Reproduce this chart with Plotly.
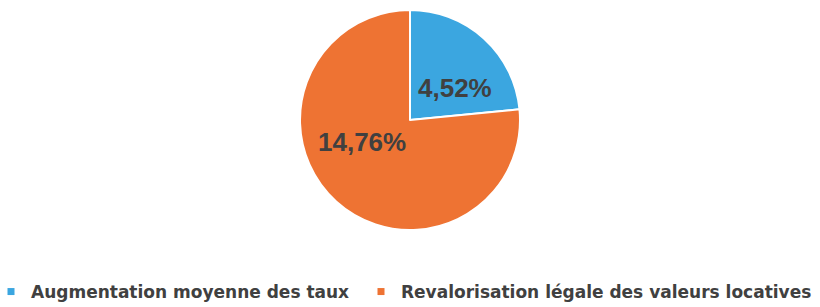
import plotly.graph_objects as go

# Data
categories = ["Augmentation moyenne des taux", "Revalorisation légale des valeurs locatives"]
values = [4.52, 14.76]
colors = ["#3BA6E0", "#EE7333"]

def fmt(v):
    return f"{v:.2f}".replace(".", ",") + "%"

W, H = 820, 307

fig = go.Figure()
fig.add_trace(go.Pie(
    labels=categories,
    values=values,
    sort=False,
    direction="clockwise",
    rotation=0,
    marker=dict(colors=colors, line=dict(color="white", width=2)),
    textinfo="none",
    hoverinfo="label+value",
    showlegend=False,
    domain=dict(x=[0, 1], y=[1 - 230 / H, 1 - 10 / H]),
))

# legend entries with small square markers (one legend per entry)
legend_ids = ["legend", "legend2"]
for c, col, lg in zip(categories, colors, legend_ids):
    fig.add_trace(go.Scatter(
        x=[None], y=[None], mode="markers", name=c,
        marker=dict(symbol="square", size=7, color=col),
        showlegend=True, hoverinfo="skip", legend=lg,
    ))

# value labels
label_pos = [(455 / W, 1 - 88 / H), (362 / W, 1 - 142 / H)]
for v, (px, py) in zip(values, label_pos):
    fig.add_annotation(
        x=px, y=py, xref="paper", yref="paper", text=fmt(v), showarrow=False,
        font=dict(family="Liberation Sans", size=26, color="#404040", weight="bold"),
        xanchor="center", yanchor="middle",
    )

legend_font = dict(family="DejaVu Sans", size=17, color="#404040", weight="bold")
common = dict(orientation="h", xanchor="left", yanchor="middle", font=legend_font,
              itemclick=False, itemdoubleclick=False, bgcolor="rgba(0,0,0,0)")

fig.update_layout(
    width=W, height=H,
    margin=dict(l=0, r=0, t=0, b=0, autoexpand=False),
    paper_bgcolor="white", plot_bgcolor="white",
    xaxis=dict(visible=False), yaxis=dict(visible=False),
    showlegend=True,
    legend=dict(x=-9 / W, y=1 - 292 / H, **common),
    legend2=dict(x=361 / W, y=1 - 292 / H, **common),
)

fig.write_html(
    "out.html",
    config={"displayModeBar": False},
    post_script="document.body.style.margin='0';document.body.style.overflow='hidden';",
)
